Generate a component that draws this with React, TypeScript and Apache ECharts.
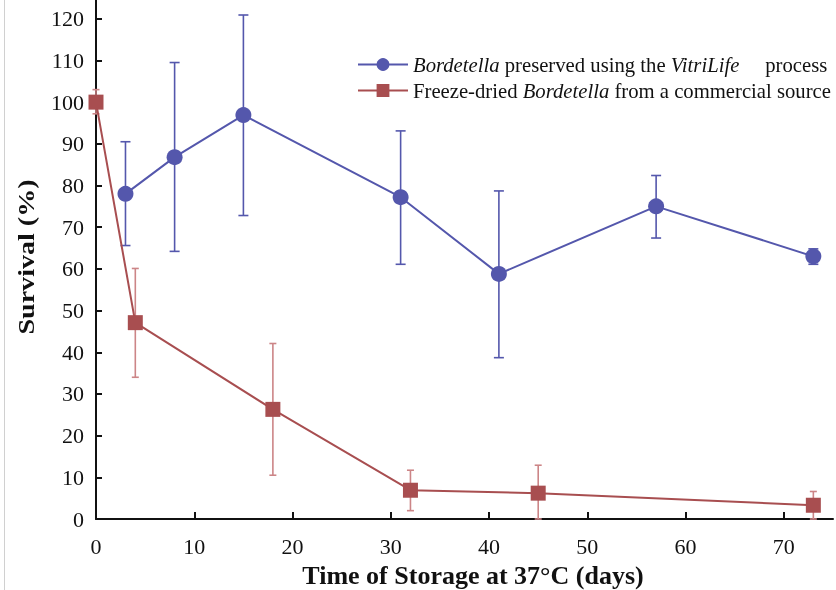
import React, { useEffect, useRef, useState } from "react";
import * as echarts from "echarts";

// Blue series: Bordetella preserved using the VitriLife process
const vitriDays = [3, 8, 15, 31, 41, 57, 73];
const vitriSurvival = [78, 86.8, 96.9, 77.2, 58.8, 75.0, 63.0];
const vitriLow = [65.6, 64.2, 72.8, 61.1, 38.7, 67.4, 61.1];
const vitriHigh = [90.5, 109.5, 120.9, 93.1, 78.7, 82.4, 64.8];

// Red series: Freeze-dried Bordetella from a commercial source
const freezeDays = [0, 4, 18, 32, 45, 73];
const freezeSurvival = [100, 47.1, 26.3, 6.9, 6.2, 3.3];
const freezeLow = [97.2, 34.0, 10.5, 2.0, 0, 0];
const freezeHigh = [103, 60.1, 42.1, 11.7, 12.9, 6.6];

const xTicks = [0, 10, 20, 30, 40, 50, 60, 70];
const yTicks = [0, 10, 20, 30, 40, 50, 60, 70, 80, 90, 100, 110, 120];

const NAME_A = "Bordetella preserved using the VitriLife process";
const NAME_B = "Freeze-dried Bordetella from a commercial source";
const Y_TITLE = "Survival (%)";
const X_TITLE = "Time of Storage at 37°C (days)";

const FONT = "Liberation Serif";
const BLUE = "#5457AC";
const RED = "#A84E50";
const RED_ERR = "#CC8587";

function errorSeries(name: string, xs: number[], lo: number[], hi: number[], color: string, cap: number, z: number) {
  return {
    type: "custom",
    name: name + " err",
    z,
    silent: true,
    encode: { x: 0, y: [1, 2] },
    data: xs.map((x, i) => [x, lo[i], hi[i]]),
    renderItem: (params: any, api: any) => {
      const x = api.value(0);
      const pLo = api.coord([x, api.value(1)]);
      const pHi = api.coord([x, api.value(2)]);
      const style = { stroke: color, lineWidth: 1.6 };
      return {
        type: "group",
        children: [
          { type: "line", shape: { x1: pLo[0], y1: pLo[1], x2: pHi[0], y2: pHi[1] }, style },
          { type: "line", shape: { x1: pHi[0] - cap, y1: pHi[1], x2: pHi[0] + cap, y2: pHi[1] }, style },
          { type: "line", shape: { x1: pLo[0] - cap, y1: pLo[1], x2: pLo[0] + cap, y2: pLo[1] }, style },
        ],
      };
    },
  };
}

function buildOption() {
  const label = { fontFamily: FONT, fontSize: 22, color: "#111" };
  return {
    animation: false,
    grid: { left: 96, right: 3, top: 0, bottom: 71 },
    graphic: [
      { type: "line", shape: { x1: 4.5, y1: 0, x2: 4.5, y2: 590 }, style: { stroke: "#d0d0d0", lineWidth: 1 } },
      {
        type: "text",
        x: 26,
        y: 257,
        rotation: Math.PI / 2,
        scaleX: 1.17,
        style: { text: Y_TITLE, fontFamily: FONT, fontSize: 24, fontWeight: "bold", fill: "#111", align: "center", verticalAlign: "middle" },
      },
      {
        type: "text",
        x: 473,
        y: 575,
        style: { text: X_TITLE, fontFamily: FONT, fontSize: 26, fontWeight: "bold", fill: "#111", align: "center", verticalAlign: "middle" },
      },
    ],
    legend: {
      orient: "vertical",
      left: 352,
      top: 49,
      itemWidth: 50,
      itemHeight: 16,
      itemGap: 5,
      data: [NAME_A, NAME_B],
      formatter: (n: string) =>
        n === NAME_A
          ? "{i|Bordetella}{t| preserved using the }{i|VitriLife}{t|     process}"
          : "{t|Freeze-dried }{i|Bordetella}{t| from a commercial source}",
      textStyle: {
        fontFamily: FONT,
        fontSize: 20.7,
        color: "#111",
        rich: {
          t: { fontFamily: FONT, fontSize: 20.7, color: "#111" },
          i: { fontFamily: FONT, fontSize: 20.7, color: "#111", fontStyle: "italic" },
        },
      },
    },
    xAxis: {
      type: "value",
      min: 0,
      max: 75,
      interval: 10,
      splitLine: { show: false },
      axisLine: { lineStyle: { color: "#111", width: 2 } },
      axisTick: { inside: true, length: 7, customValues: xTicks, lineStyle: { color: "#111", width: 2 } },
      axisLabel: { ...label, customValues: xTicks, margin: 16 },
    },
    yAxis: {
      type: "value",
      min: 0,
      max: 124.5,
      interval: 10,
      splitLine: { show: false },
      axisLine: { show: true, lineStyle: { color: "#111", width: 2 } },
      axisTick: { show: true, inside: true, length: 6, customValues: yTicks, lineStyle: { color: "#111", width: 2 } },
      axisLabel: { ...label, customValues: yTicks, margin: 12 },
    },
    series: [
      errorSeries(NAME_A, vitriDays, vitriLow, vitriHigh, BLUE, 5, 1),
      errorSeries(NAME_B, freezeDays, freezeLow, freezeHigh, RED_ERR, 3.5, 1),
      {
        type: "line",
        name: NAME_A,
        z: 3,
        data: vitriDays.map((d, i) => [d, vitriSurvival[i]]),
        symbol: "circle",
        symbolSize: 16,
        itemStyle: { color: BLUE },
        lineStyle: { color: BLUE, width: 2 },
      },
      {
        type: "line",
        name: NAME_B,
        z: 4,
        data: freezeDays.map((d, i) => [d, freezeSurvival[i]]),
        symbol: "rect",
        symbolSize: 15,
        itemStyle: { color: RED },
        lineStyle: { color: RED, width: 2 },
      },
    ],
  };
}

export default function App() {
  const ref = useRef<HTMLDivElement>(null);
  const [ready, setReady] = useState(false);
  useEffect(() => {
    if (!ref.current) return;
    let disposed = false;
    const chart = echarts.init(ref.current, null, { renderer: "svg" });
    chart.setOption(buildOption());
    setReady(true);
    const fonts: any = (document as any).fonts;
    if (fonts && fonts.ready) {
      fonts.ready.then(() => {
        if (!disposed) chart.setOption(buildOption(), true);
      });
    }
    return () => {
      disposed = true;
      chart.dispose();
    };
  }, []);
  return (
    <div>
      <div ref={ref} style={{ position: "fixed", left: 0, top: 0, width: 836, height: 590 }} />
      {ready && (
        <div
          aria-hidden="true"
          style={{ position: "fixed", left: 0, top: 0, width: 1, height: 1, overflow: "hidden", opacity: 0, pointerEvents: "none" }}
        >
          <span style={{ fontFamily: "Liberation Serif", fontSize: 22 }}>0123456789</span>
          <span style={{ fontFamily: "monospace", fontSize: 10 }}>0</span>
        </div>
      )}
    </div>
  );
}
